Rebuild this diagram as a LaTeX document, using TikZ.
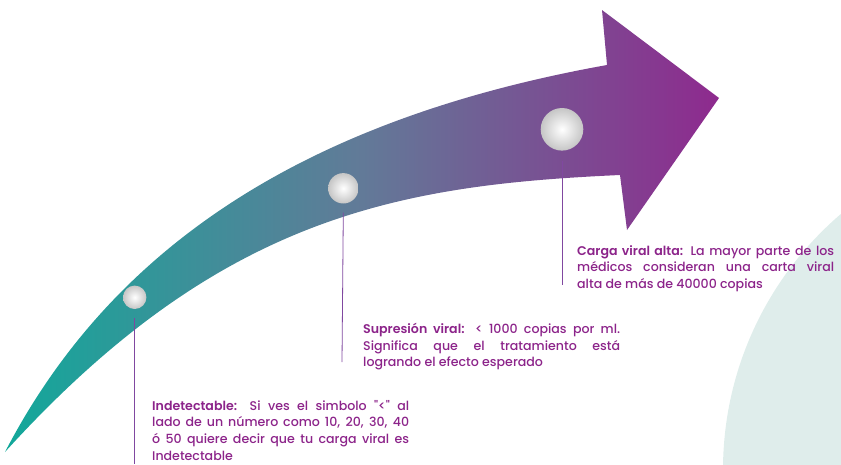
\documentclass[tikz,border=0pt]{standalone}
\usepackage{fontspec}
\setmainfont{Poppins}[UprightFont={* Medium}, BoldFont={* SemiBold}]
\definecolor{vteal}{RGB}{18,168,154}
\definecolor{vmid}{RGB}{98,122,152}
\definecolor{vpurple}{RGB}{142,42,142}
\definecolor{vtext}{RGB}{140,36,138}
\definecolor{vline}{RGB}{128,72,160}
\definecolor{vbg}{RGB}{223,237,235}
\tikzset{
  dot/.style={circle, inner sep=0pt, shading=radial, inner color=white, outer color=gray!45},
  lead/.style={draw=vline, line width=0.8pt},
  note/.style={anchor=north west, inner sep=0pt, text width=257pt, align=justify,
    text=vtext, font=\fontsize{12.6}{16.7}\selectfont},
}
\begin{document}
\begin{tikzpicture}[x=1pt, y=-1pt]
\useasboundingbox (0,0) rectangle (841,464);
% pale disc in the corner
\begin{scope}
\clip (0,0) rectangle (841,464);
\fill[vbg] (1060,470) circle (337pt);
\end{scope}
% the arrow
\shade[left color=vteal, right color=vpurple, middle color=vmid]
  (5,452) .. controls (110,250) and (300,120) .. (607,65) -- (602,10) -- (719,98)
  -- (627,230) -- (620,175) .. controls (400,185) and (220,215) .. (5,452) -- cycle;

\node [dot, minimum size=23.4pt] (c1) at (134.7,297.3) {};
\node [dot, minimum size=30.4pt] (c2) at (343.3,188.3) {};
\node [dot, minimum size=42.6pt] (c3) at (562,129.3) {};

\node [note] (t1) at (152,400) {\textbf{Indetectable:} Si ves el simbolo \textquotedbl<\textquotedbl{} al\linebreak
  lado de un número como 10, 20, 30, 40\linebreak ó 50 quiere decir que tu carga viral es\linebreak
  Indetectable};
\node [note] (t2) at (363,323) {\textbf{Supresión viral:} < 1000 copias por ml.\linebreak
  Significa que el tratamiento está\linebreak logrando el efecto esperado};
\node [note] (t3) at (577,245) {\textbf{Carga viral alta:} La mayor parte de los\linebreak
  médicos consideran una carta viral\linebreak alta de más de 40000 copias};

\coordinate (e1) at (134.7,464);
\coordinate (e2) at (342,362);
\coordinate (e3) at (562,285);
\draw[lead] ([yshift=-9pt]c1.south) -- (e1);
\draw[lead] ([yshift=-9pt]c2.south) -- (e2);
\draw[lead] ([yshift=-10pt]c3.south) -- (e3);
\end{tikzpicture}
\end{document}
